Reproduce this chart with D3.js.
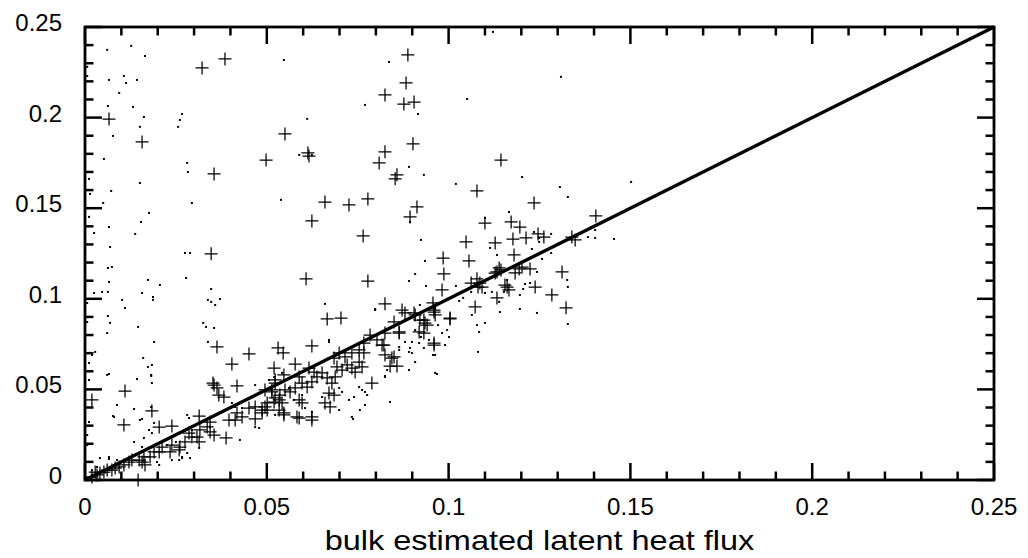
<!DOCTYPE html>
<html><head><meta charset="utf-8">
<script src="https://cdn.jsdelivr.net/npm/d3@7"></script>
<style>body{margin:0;background:#fff;}svg{display:block;}text{font-family:"Liberation Sans",Arial,Helvetica,sans-serif;fill:#000;}</style>
</head><body>
<svg id="chart" width="1028" height="558"></svg>
<script>
const xTickValues = [0, 0.05, 0.1, 0.15, 0.2, 0.25];
const xTickLabels = ["0", "0.05", "0.1", "0.15", "0.2", "0.25"];
const yTickValues = [0, 0.05, 0.1, 0.15, 0.2, 0.25];
const yTickLabels = ["0", "0.05", "0.1", "0.15", "0.2", "0.25"];
const xTitle = "bulk estimated latent heat flux";
const diagonal = [[0, 0], [0.25, 0.25]];

const plusPts = [
[.0066,.1992],[.0157,.1866],[.0322,.2274],[.0385,.2324],[.0355,.1689],[.0498,.1766],[.0550,.1910],[.0613,.1805],[.0616,.1788],[.0660,.1534],
[.0726,.1518],[.0778,.1551],[.0809,.1750],[.0888,.2346],[.0883,.2191],[.0825,.2125],[.0877,.2075],[.0905,.2086],[.0902,.1855],[.0825,.1811],
[.0858,.1684],[.0853,.1662],[.1144,.1766],[.1078,.1595],[.1235,.1529],[.0913,.1507],[.0894,.1452],[.1405,.1457],[.0624,.1430],[.0347,.1248],
[.0765,.1347],[.0608,.1110],[.0778,.1098],[.0666,.0889],[.0704,.0894],[.0363,.0734],[.0624,.0740],[.0451,.0696],[.0404,.0640],[.0110,.0491],
[.0019,.0442],[.0107,.0304],[.0184,.0381],[.0352,.0535],[.0363,.0508],[.0418,.0519],[.0382,.0458],[.0531,.0729],[.0545,.0701],[.0520,.0618],
[.0578,.0640],[.0789,.0535],[.0589,.0342],[.0624,.0331],[.0547,.0370],[.0674,.0403],[.0388,.0232],[.0314,.0353],[.0239,.0298],[.0204,.0292],
[.0413,.0331],[.0468,.0337],[.0146,0],[.1100,.1418],[.1172,.1424],[.1196,.1396],[.1246,.1358],[.1262,.1341],[.1348,.1325],[.1213,.1336],
[.1177,.1330],[.1128,.1308],[.1048,.1314],[.1180,.1242],[.0985,.1225],[.1056,.1209],[.0987,.1137],[.1139,.1170],[.1133,.1148],[.1194,.1165],
[.1224,.1165],[.1183,.1143],[.1312,.1148],[.0982,.1049],[.1062,.1087],[.1078,.1110],[.1092,.1065],[.1155,.1076],[.1166,.1049],[.1238,.1065],
[.1284,.1021],[.1133,.1005],[.1323,.0950],[.1073,.0955],[.0825,.0972],[.0872,.0938],[.0957,.0977],[.0960,.0927],[.0908,.0911],[.0932,.0883],
[.0941,.0855],[.1004,.0889],[.0850,.0872],[.0864,.0811],[.0825,.0811],[.0960,.0745],[.0822,.0745],[.0825,.0690],[.0850,.0679],[.0839,.0629],
[.0858,.0629],
[.0344,.0320],[.0336,.0293],[.0344,.0265],[.0355,.0248],[.0316,.0276],[.0308,.0237],[.0294,.0237],[.0314,.0210],[.0286,.0259],[.0275,.0210],
[.0261,.0182],[.0259,.0166],[.0239,.0193],[.0234,.0155],[.0212,.0182],[.0204,.0155],[.0190,.0155],[.0179,.0127],[.0162,.0127],[.0157,.0099],
[.0165,.0083],[.0149,.0110],[.0129,.0110],[.0121,.0099],[.0107,.0083],[.0094,.0072],[.0083,.0066],[.0074,.0055],[.0061,.0055],[.0052,.0044],
[.0041,.0039],[.0033,.0028],[.0028,.0044],[.0019,.0017],[.0451,.0397],[.0468,.0403],[.0487,.0386],[.0501,.0425],[.0520,.0430],[.0534,.0442],
[.0514,.0497],[.0523,.0535],[.0487,.0370],[.0418,.0370],[.0432,.0348],[.0396,.0331],[.0355,.0524],[.0368,.0469],
[.0547,.0580],[.0589,.0569],[.0523,.0552],[.0616,.0618],[.0630,.0596],[.0638,.0569],[.0624,.0541],[.0652,.0591],[.0666,.0563],[.0679,.0535],
[.0688,.0569],[.0693,.0624],[.0707,.0607],[.0721,.0635],[.0734,.0618],[.0743,.0596],[.0762,.0624],[.0754,.0651],[.0685,.0673],[.0699,.0701],
[.0715,.0679],[.0734,.0701],[.0754,.0718],[.0767,.0701],[.0767,.0756],[.0784,.0800],[.0803,.0773],[.0817,.0745],[.0844,.0673],[.0671,.0480],
[.0685,.0469],[.0660,.0425],[.0597,.0535],[.0611,.0513],[.0578,.0508],[.0564,.0486],[.0550,.0497],[.0536,.0469],[.0523,.0453],[.0514,.0486],
[.0495,.0497],[.0589,.0442],[.0597,.0425],[.0542,.0425],[.0534,.0386],[.0547,.0359],[.0495,.0403],[.0501,.0386],[.0583,.0348],[.0624,.0348],
[.0864,.0817],[.0880,.0922],[.0905,.0922],[.0921,.0883],[.0935,.0866],[.0960,.0938],[.0963,.0911],[.0919,.0817],[.0932,.0811],[.0960,.0756],
[.1004,.0894],[.1144,.1159],[.1128,.1142],[.1202,.1175],[.1086,.1087],[.1081,.1065],[.1161,.1065],[.1339,.1341]
];

const dotPts = [
[.0061,.2374],[.0127,.2396],[.0165,.2340],[.0006,.2280],[.0006,.2230],[.0066,.2208],[.0107,.2230],[.0113,.2191],[.0143,.2208],[.0094,.2136],
[.0063,.2064],[.0132,.2059],[.0162,.2003],[.0267,.2020],[.0261,.1987],[.0256,.1949],[.0151,.1949],[.0077,.1899],[.0052,.1772],[.0281,.1750],
[.0283,.1700],[.0151,.1639],[.0011,.1662],[.0072,.1595],[.0014,.1579],[.0050,.1529],[.0294,.1529],[.0176,.1474],[.0011,.1452],[.0547,.2318],
[.0611,.1993],[.0589,.1794],[.0624,.1794],[.0539,.1546],[.0770,.2070],[.0836,.2307],[.1122,.2473],[.1309,.2225],[.1051,.2103],[.0916,.2020],
[.0891,.1728],[.0932,.1684],[.1020,.1634],[.1202,.1672],[.1306,.1617],[.1328,.1562],[.1502,.1645],[.1166,.1479],[.1100,.1446],
[.0066,.1396],[.0154,.1424],[.0025,.1363],[.0138,.1358],[.0069,.1286],[.0275,.1253],[.0289,.1253],[.0063,.1170],[.0074,.1176],[.0278,.1115],
[.0173,.1104],[.0066,.1093],[.0206,.1076],[.0347,.1054],[.0025,.1032],[.0047,.1038],[.0063,.1038],[.0157,.1032],[.0187,.1010],[.0187,.0994],
[.0102,.0994],[.0338,.0994],[.0347,.0983],[.0371,.0999],[.0358,.0966],[.0110,.0949],[.0006,.0977],[.0660,.0972],[.0063,.0905],[.0069,.0867],
[.0006,.0872],[.0146,.0845],[.0325,.0867],[.0333,.0845],[.0355,.0839],[.0061,.0811],[.0190,.0762],[.0338,.0762],[.0671,.0773],[.0019,.0690],
[.0028,.0707],[.0011,.0646],[.0160,.0673],[.0173,.0624],[.0184,.0635],[.0066,.0585],[.0182,.0580],[.0184,.0535],[.0088,.0414],[.0077,.0353],
[.0135,.0392],[.0157,.0337],[.0011,.0320],[.0006,.0248],[.0006,.0193],[.0041,.0121],[.0066,.0116],[.0289,.0121],[.0267,.0121],[.0281,.0359],
[.0770,.0414],[.0798,.0944],[.0776,.0469],[.0737,.0337],
[.0894,.1424],[.0924,.1325],[.0935,.1209],[.0908,.1137],[.0891,.1098],[.0938,.1071],[.1020,.1071],[.1040,.1005],[.1029,.0988],[.1062,.1038],
[.1100,.1032],[.1119,.1038],[.1141,.0927],[.1196,.0944],[.1243,.0922],[.1196,.1021],[.1205,.1054],[.1210,.1082],[.1224,.1087],[.1243,.1148],
[.1257,.1220],[.1282,.1253],[.1229,.1275],[.1235,.1369],[.1249,.1336],[.1249,.1314],[.1282,.1358],[.1326,.1104],[.1328,.1065],[.1328,.0861],
[.1383,.1341],[.1403,.1336],[.1403,.1380],[.1455,.1330],[.1133,.1242],[.1114,.1281],[.1064,.0911],[.1078,.0855],[.1084,.0817],[.1100,.0867],
[.1081,.0707],[.0971,.0855],[.0996,.0828],[.1001,.0789],[.0990,.0745],[.0957,.0690],[.0968,.0585],[.0932,.0729],[.0924,.0789],[.0908,.0828],
[.0899,.0762],[.0894,.0729],[.0899,.0701],[.0864,.0734],[.0831,.0607],[.0825,.0574],[.0839,.0431],[.0963,.0949],[.0927,.0883],[.1139,.0983],
[.1152,.1038],[.1161,.1104],
[.0011,.0552],[.0061,.0580],[.0143,.0557],[.0182,.0574],[.0080,.0348],[.0151,.0331],[.0182,.0403],[.0190,.0315],[.0176,.0276],[.0184,.0259],
[.0162,.0232],[.0135,.0210],[.0157,.0182],[.0220,.0221],[.0226,.0193],[.0250,.0210],[.0286,.0342],[.0294,.0276],[.0267,.0127],[.0259,.0110],
[.0239,.0110],[.0198,.0099],[.0204,.0083],[.0281,.0149],[.0314,.0177],[.0066,.0127],[.0088,.0110],[.0094,.0094],[.0033,.0072],[.0019,.0055],
[.0468,.0524],[.0426,.0221],[.0468,.0292],[.0479,.0287],[.0404,.0425],[.0413,.0403],[.0432,.0397],[.0520,.0568],
[.0798,.0938],[.0921,.0966],[.0671,.0762],[.0880,.0762],[.0864,.0718],[.0891,.0707],[.0919,.0756],[.0946,.0773],[.0982,.0811],[.0963,.0690],
[.0891,.0607],[.0908,.0651],[.0963,.0591],[.0825,.0569],[.0754,.0513],[.0762,.0497],[.0770,.0486],[.0699,.0508],[.0707,.0486],[.0726,.0442],
[.0740,.0458],[.0756,.0386],[.0734,.0348],[.0699,.0386],[.0605,.0397],[.0624,.0375],[.0652,.0458],[.0506,.0552],[.0542,.0591],[.0561,.0508],
[.0575,.0442],[.0597,.0469],[.0523,.0359]
];

const L = 85, R = 994, T = 27, B = 480;
const x = d3.scaleLinear().domain([0, 0.25]).range([L, R]);
const y = d3.scaleLinear().domain([0, 0.25]).range([B, T]);
const svg = d3.select("#chart");

// dots
svg.append("g").selectAll("rect").data(dotPts).join("rect")
  .attr("x", d => x(d[0]) - 1).attr("y", d => y(d[1]) - 1)
  .attr("width", 2).attr("height", 2).attr("fill", "#000");

// plus markers
const arm = 6.5;
svg.append("g").selectAll("path").data(plusPts).join("path")
  .attr("d", d => { const px = x(d[0]), py = y(d[1]);
     return `M${px-arm},${py}H${px+arm}M${px},${py-arm}V${py+arm}`; })
  .attr("stroke", "#000").attr("stroke-width", 1.25).attr("fill", "none");

// diagonal
svg.append("path").datum(diagonal)
  .attr("d", d3.line().x(d => x(d[0])).y(d => y(d[1])))
  .attr("stroke", "#000").attr("stroke-width", 3.4).attr("fill", "none");

// ticks
const minor = d3.range(0, 26).map(i => i / 100);
const isMajor = v => Math.abs(v * 20 - Math.round(v * 20)) < 1e-6;
const tg = svg.append("g").attr("stroke", "#000").attr("stroke-width", 2.5);
minor.forEach(v => {
  const len = isMajor(v) ? 17 : 8.5;
  tg.append("line").attr("x1", x(v)).attr("x2", x(v)).attr("y1", B).attr("y2", B - len);
  tg.append("line").attr("x1", x(v)).attr("x2", x(v)).attr("y1", T).attr("y2", T + len);
  tg.append("line").attr("y1", y(v)).attr("y2", y(v)).attr("x1", L).attr("x2", L + len);
  tg.append("line").attr("y1", y(v)).attr("y2", y(v)).attr("x1", R).attr("x2", R - len);
});
svg.append("rect").attr("x", L).attr("y", T).attr("width", R - L).attr("height", B - T)
  .attr("fill", "none").attr("stroke", "#000").attr("stroke-width", 2.8);

// labels
svg.append("g").selectAll("text").data(xTickValues).join("text")
  .attr("x", d => x(d)).attr("y", 515).attr("text-anchor", "middle")
  .attr("font-size", 24).text((d, i) => xTickLabels[i]);
svg.append("g").selectAll("text").data(yTickValues).join("text")
  .attr("x", 62).attr("y", d => y(d) + 4).attr("text-anchor", "end")
  .attr("font-size", 24).text((d, i) => yTickLabels[i]);
svg.append("text").attr("transform", `translate(${(L + R) / 2},550) scale(1.16,1)`)
  .attr("text-anchor", "middle").attr("font-size", 28).text(xTitle);
</script>
</body></html>
